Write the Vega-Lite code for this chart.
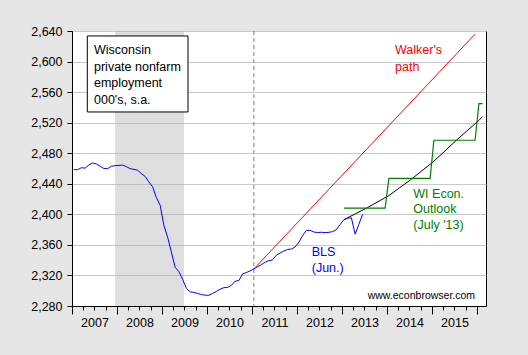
{
  "$schema": "https://vega.github.io/schema/vega-lite/v6.json",
  "width": 414,
  "height": 275,
  "autosize": {"type": "none"},
  "padding": {"left": 72, "top": 31, "right": 42, "bottom": 49},
  "background": "#e6e6e6",
  "config": {
    "view": {"stroke": "black", "strokeWidth": 1, "fill": "white"},
    "axis": {
      "labelFont": "Liberation Sans",
      "labelFontSize": 12.5,
      "labelColor": "black",
      "tickColor": "black",
      "domainColor": "black",
      "gridColor": "#c8c8c8",
      "gridWidth": 1,
      "title": null
    },
    "text": {"font": "Liberation Sans"}
  },
  "encoding": {
    "x": {
      "field": "t",
      "type": "quantitative",
      "scale": {"domain": [2007, 2016.2], "nice": false, "zero": false},
      "axis": {
        "values": [2007, 2007.25, 2007.5, 2007.75, 2008, 2008.25, 2008.5, 2008.75, 2009, 2009.25, 2009.5, 2009.75, 2010, 2010.25, 2010.5, 2010.75, 2011, 2011.25, 2011.5, 2011.75, 2012, 2012.25, 2012.5, 2012.75, 2013, 2013.25, 2013.5, 2013.75, 2014, 2014.25, 2014.5, 2014.75, 2015, 2015.25, 2015.5, 2015.75, 2016],
        "tickCount": 100,
        "labelExpr": "datum.value % 1 == 0.5 ? '' + floor(datum.value) : ''",
        "tickSize": {"condition": {"test": "datum.value % 1 == 0", "value": 8}, "value": 4},
        "labelPadding": 6,
        "grid": false,
        "labelOverlap": false,
        "labelFlush": false,
        "labelBound": false
      }
    }
  },
  "layer": [
    {
      "data": {"values": [{"t": 2007.956, "t2": 2009.489}]},
      "mark": {"type": "rect", "color": "#b0b0b0", "opacity": 0.42},
      "encoding": {"x2": {"field": "t2"}}
    },
    {
      "data": {"values": [{"t": 2011.042}]},
      "mark": {"type": "rule", "color": "#808080", "strokeDash": [4, 3], "strokeWidth": 1},
      "encoding": {}
    },
    {
      "data": {"values": [{"t": 2007.34, "t2": 2009.578, "v": 2633.5, "v2": 2534}]},
      "mark": {"type": "rect", "fill": "white", "stroke": "black", "strokeWidth": 1},
      "encoding": {
        "x2": {"field": "t2"},
        "y": {
          "field": "v",
          "type": "quantitative",
          "scale": {"domain": [2280, 2640], "nice": false, "zero": false},
          "axis": {
            "values": [2280, 2320, 2360, 2400, 2440, 2480, 2520, 2560, 2600, 2640],
            "tickCount": 100,
            "format": ",.0f",
            "grid": true,
            "tickSize": 5,
            "labelPadding": 5,
            "labelOverlap": false
          }
        },
        "y2": {"field": "v2"}
      }
    },
    {
      "data": {"values": [{"t": 2007.489, "v": 2609.5, "label": "Wisconsin\nprivate nonfarm\nemployment\n000's, s.a."}]},
      "mark": {"type": "text", "align": "left", "baseline": "alphabetic", "fontSize": 12.5, "lineBreak": "\n", "lineHeight": 16.6, "color": "black"},
      "encoding": {
        "y": {"field": "v", "type": "quantitative"},
        "text": {"field": "label"}
      }
    },
    {
      "data": {"values": [{"t": 2011.042, "v": 2328.5}, {"t": 2015.958, "v": 2636}]},
      "mark": {"type": "line", "color": "#ff0000", "strokeWidth": 1},
      "encoding": {"y": {"field": "v", "type": "quantitative"}}
    },
    {
      "data": {"values": [
        {"t": 2013.042, "v": 2393},
        {"t": 2013.542, "v": 2408},
        {"t": 2014.042, "v": 2424.5},
        {"t": 2014.542, "v": 2446},
        {"t": 2015.042, "v": 2469.5},
        {"t": 2015.542, "v": 2497},
        {"t": 2016.042, "v": 2523},
        {"t": 2016.125, "v": 2528}
      ]},
      "mark": {"type": "line", "color": "black", "strokeWidth": 1},
      "encoding": {"y": {"field": "v", "type": "quantitative"}}
    },
    {
      "data": {"values": [
        {"t": 2013.042, "v": 2408},
        {"t": 2013.958, "v": 2408},
        {"t": 2014.042, "v": 2447},
        {"t": 2014.958, "v": 2447},
        {"t": 2015.042, "v": 2497},
        {"t": 2015.958, "v": 2497},
        {"t": 2016.042, "v": 2545},
        {"t": 2016.125, "v": 2545}
      ]},
      "mark": {"type": "line", "color": "#008000", "strokeWidth": 1.2},
      "encoding": {"y": {"field": "v", "type": "quantitative"}}
    },
    {
      "data": {"values": [
        {"t": 2007.042, "v": 2458.5}, {"t": 2007.125, "v": 2458.5}, {"t": 2007.208, "v": 2461}, {"t": 2007.292, "v": 2460.5},
        {"t": 2007.375, "v": 2464.6}, {"t": 2007.458, "v": 2467.2}, {"t": 2007.542, "v": 2466}, {"t": 2007.625, "v": 2463},
        {"t": 2007.708, "v": 2460}, {"t": 2007.792, "v": 2459.8}, {"t": 2007.875, "v": 2463}, {"t": 2007.958, "v": 2463.7},
        {"t": 2008.042, "v": 2464}, {"t": 2008.125, "v": 2464.5}, {"t": 2008.208, "v": 2462.5}, {"t": 2008.292, "v": 2459.8},
        {"t": 2008.375, "v": 2458.9}, {"t": 2008.458, "v": 2457.8}, {"t": 2008.542, "v": 2453.2}, {"t": 2008.625, "v": 2449.7},
        {"t": 2008.708, "v": 2442.5}, {"t": 2008.792, "v": 2436}, {"t": 2008.875, "v": 2422}, {"t": 2008.958, "v": 2412},
        {"t": 2009.042, "v": 2385.6}, {"t": 2009.125, "v": 2370}, {"t": 2009.208, "v": 2350.7}, {"t": 2009.292, "v": 2330.7},
        {"t": 2009.375, "v": 2325}, {"t": 2009.458, "v": 2315}, {"t": 2009.542, "v": 2303}, {"t": 2009.625, "v": 2298.5},
        {"t": 2009.708, "v": 2297.8}, {"t": 2009.792, "v": 2296.4}, {"t": 2009.875, "v": 2295}, {"t": 2009.958, "v": 2294.2},
        {"t": 2010.042, "v": 2294}, {"t": 2010.125, "v": 2296.5}, {"t": 2010.208, "v": 2299}, {"t": 2010.292, "v": 2302},
        {"t": 2010.375, "v": 2304}, {"t": 2010.458, "v": 2304.3}, {"t": 2010.542, "v": 2307}, {"t": 2010.625, "v": 2312.5},
        {"t": 2010.708, "v": 2313.3}, {"t": 2010.792, "v": 2322}, {"t": 2010.875, "v": 2323.8}, {"t": 2010.958, "v": 2326},
        {"t": 2011.042, "v": 2328.5}, {"t": 2011.125, "v": 2331.5}, {"t": 2011.208, "v": 2334}, {"t": 2011.292, "v": 2337.3},
        {"t": 2011.375, "v": 2339.4}, {"t": 2011.458, "v": 2340.4}, {"t": 2011.542, "v": 2346.5}, {"t": 2011.625, "v": 2349.5},
        {"t": 2011.708, "v": 2352}, {"t": 2011.792, "v": 2354}, {"t": 2011.875, "v": 2354.6}, {"t": 2011.958, "v": 2357.3},
        {"t": 2012.042, "v": 2363.5}, {"t": 2012.125, "v": 2372.2}, {"t": 2012.208, "v": 2379}, {"t": 2012.292, "v": 2379},
        {"t": 2012.375, "v": 2376.8}, {"t": 2012.458, "v": 2376.2}, {"t": 2012.542, "v": 2376.5}, {"t": 2012.625, "v": 2376.1},
        {"t": 2012.708, "v": 2376.4}, {"t": 2012.792, "v": 2377.4}, {"t": 2012.875, "v": 2380}, {"t": 2012.958, "v": 2386.5},
        {"t": 2013.042, "v": 2393}, {"t": 2013.125, "v": 2395}, {"t": 2013.208, "v": 2395.5}, {"t": 2013.292, "v": 2374},
        {"t": 2013.375, "v": 2387}, {"t": 2013.458, "v": 2400}
      ]},
      "mark": {"type": "line", "color": "#0000ff", "strokeWidth": 1},
      "encoding": {"y": {"field": "v", "type": "quantitative"}}
    },
    {
      "data": {"values": [{"t": 2014.178, "v": 2609.9, "label": "Walker's\npath"}]},
      "mark": {"type": "text", "align": "left", "baseline": "alphabetic", "fontSize": 12.5, "lineBreak": "\n", "lineHeight": 16.8, "color": "#ff0000"},
      "encoding": {
        "y": {"field": "v", "type": "quantitative"},
        "text": {"field": "label"}
      }
    },
    {
      "data": {"values": [{"t": 2014.585, "v": 2421.8, "label": "WI Econ.\nOutlook\n(July '13)"}]},
      "mark": {"type": "text", "align": "left", "baseline": "alphabetic", "fontSize": 12.5, "lineBreak": "\n", "lineHeight": 15.8, "color": "#008000"},
      "encoding": {
        "y": {"field": "v", "type": "quantitative"},
        "text": {"field": "label"}
      }
    },
    {
      "data": {"values": [{"t": 2012.327, "v": 2345.5, "label": "BLS\n(Jun.)"}]},
      "mark": {"type": "text", "align": "left", "baseline": "alphabetic", "fontSize": 12.5, "lineBreak": "\n", "lineHeight": 15.8, "color": "#0000ff"},
      "encoding": {
        "y": {"field": "v", "type": "quantitative"},
        "text": {"field": "label"}
      }
    },
    {
      "data": {"values": [{"t": 2013.571, "v": 2289.6, "label": "www.econbrowser.com"}]},
      "mark": {"type": "text", "align": "left", "baseline": "alphabetic", "fontSize": 10.5, "color": "black"},
      "encoding": {
        "y": {"field": "v", "type": "quantitative"},
        "text": {"field": "label"}
      }
    }
  ]
}
